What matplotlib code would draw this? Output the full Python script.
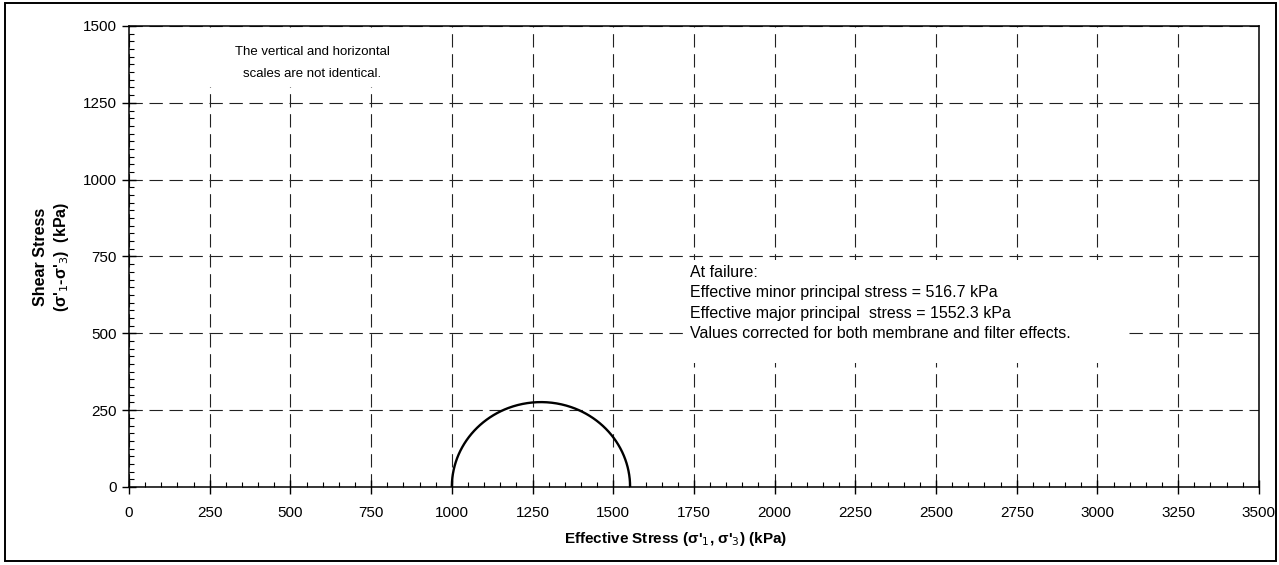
import numpy as np
import matplotlib
matplotlib.use("Agg")
import matplotlib.pyplot as plt
from matplotlib.patches import Rectangle
from matplotlib.ticker import MultipleLocator

plt.rcParams['font.family'] = ['Liberation Sans', 'DejaVu Sans']

# Mohr circle at failure (as drawn)
sig_left = 1000.0    # kPa
sig_right = 1552.3   # kPa
x_ticks = [0, 250, 500, 750, 1000, 1250, 1500, 1750, 2000, 2250, 2500, 2750, 3000, 3250, 3500]
y_ticks = [0, 250, 500, 750, 1000, 1250, 1500]

note_text = "The vertical and horizontal\nscales are not identical."
fail_text = ("At failure:\n"
             "Effective minor principal stress = 516.7 kPa\n"
             "Effective major principal  stress = 1552.3 kPa\n"
             "Values corrected for both membrane and filter effects.")

centre = (sig_left + sig_right) / 2
radius = (sig_right - sig_left) / 2
theta = np.linspace(0, np.pi, 400)
cx = centre + radius * np.cos(theta)
cy = radius * np.sin(theta)

fig = plt.figure(figsize=(12.79, 5.65), dpi=100)
ax = fig.add_axes([0.1009, 0.1381, 0.8833, 0.8159])

ax.plot(cx, cy, color='black', lw=1.7, zorder=5)

ax.set_xlim(0, 3500)
ax.set_ylim(0, 1500)
ax.set_xticks(x_ticks)
ax.set_yticks(y_ticks)
ax.xaxis.set_minor_locator(MultipleLocator(50))
ax.yaxis.set_minor_locator(MultipleLocator(25))
ax.tick_params(which='major', direction='inout', length=10, width=1, labelsize=11)
ax.tick_params(axis='x', which='major', pad=9)
ax.tick_params(axis='y', which='major', pad=4)
ax.tick_params(which='minor', direction='in', length=3.5, width=0.8)
ax.grid(True, which='major', color='#222222', ls=(0, (12, 6)), lw=0.8)
for s in ax.spines.values():
    s.set_linewidth(1.1)

ax.set_xlabel("Effective Stress (\u03c3'$_1$, \u03c3'$_3$) (kPa)", fontsize=11, fontweight='bold')
ax.xaxis.set_label_coords(0.484, -0.093)
ax.set_ylabel("Shear Stress\n(\u03c3'$_1$-\u03c3'$_3$)  (kPa)", fontsize=11.5, fontweight='bold',
              linespacing=1.35)
ax.yaxis.set_label_coords(-0.051, 0.5)

# white backgrounds behind the two notes
ax.add_patch(Rectangle((0.063, 0.868), 0.217, 0.121, transform=ax.transAxes,
                       facecolor='white', edgecolor='none', zorder=3))
ax.add_patch(Rectangle((0.491, 0.269), 0.39, 0.223, transform=ax.transAxes,
                       facecolor='white', edgecolor='none', zorder=3))

ax.text(568, 1380, note_text, ha='center', va='center', fontsize=9.5,
        linespacing=2.15, zorder=6)
ax.text(1738, 599, fail_text, ha='left', va='center', fontsize=11.5,
        linespacing=1.45, zorder=6)

fig.patches.append(Rectangle((0.004, 0.007), 0.994, 0.988, transform=fig.transFigure,
                             fill=False, edgecolor='black', lw=1.4))

fig.savefig("out.png", dpi=100)
